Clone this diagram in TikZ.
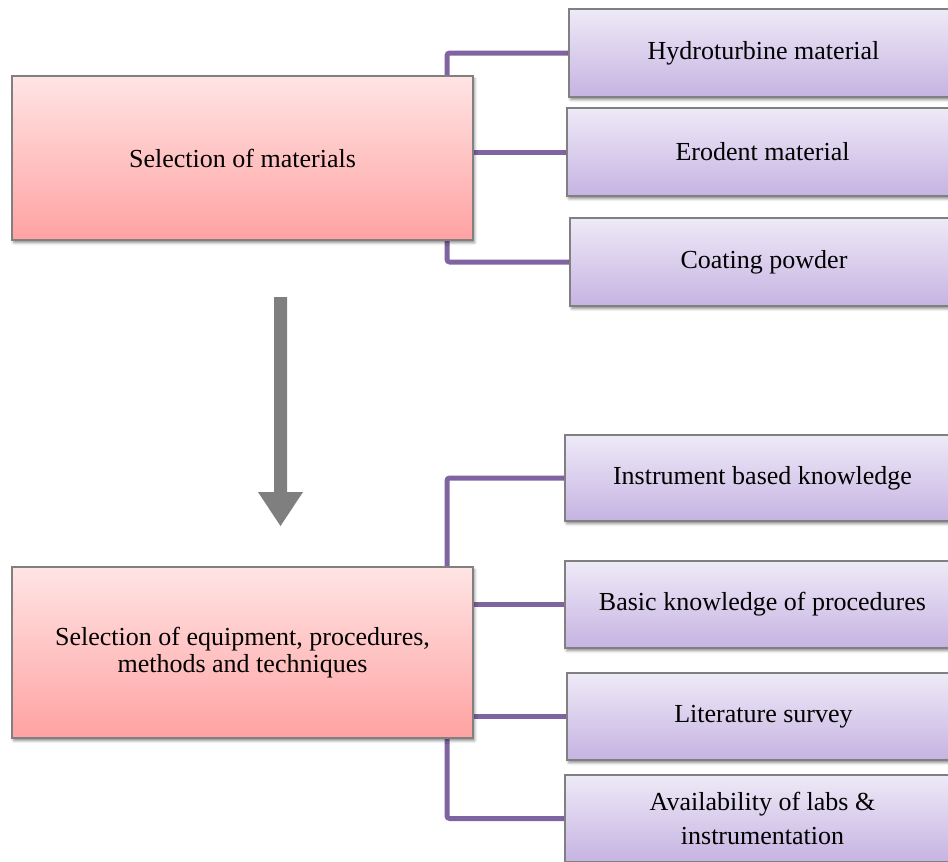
\documentclass[tikz,border=0pt]{standalone}
\usepackage{fontspec}
\setmainfont{Liberation Serif}
\usetikzlibrary{shadows.blur}
\pgfdeclarelayer{background}
\pgfsetlayers{background,main}
\definecolor{pinktop}{HTML}{FFE4E4}
\definecolor{pinkbot}{HTML}{FFA2A2}
\definecolor{purptop}{HTML}{EEEAF7}
\definecolor{purpbot}{HTML}{C6B3E2}
\definecolor{conncol}{HTML}{8064A2}
\definecolor{bordcol}{HTML}{808080}
\definecolor{arrcol}{HTML}{7F7F7F}
\tikzset{
  basebox/.style={draw=bordcol, line width=0.8pt, inner sep=2pt, align=center,
    font=\fontsize{19.5}{20}\selectfont,
    blur shadow={shadow xshift=1.2pt, shadow yshift=-2pt, shadow blur radius=2pt, shadow opacity=45}},
  mainbox/.style={basebox, top color=pinktop, bottom color=pinkbot},
  subbox/.style={basebox, top color=purptop, bottom color=purpbot},
  conn/.style={draw=conncol, line width=3.75pt, rounded corners=2pt},
}
\begin{document}
\begin{tikzpicture}[x=0.75pt, y=-0.75pt]
\useasboundingbox (0,0) rectangle (948,861);
\clip (0,0) rectangle (948,861);
% left boxes
\node[mainbox, minimum width=345.75pt, minimum height=123pt] (mat) at (242.5,158) {Selection of materials};
\node[mainbox, minimum width=345.75pt, minimum height=128.25pt] (equ) at (242.5,652.5) {Selection of equipment, procedures,\\methods and techniques};
% right boxes (top)
\node[subbox, minimum width=291.75pt, minimum height=66pt] (hyd) at (763.5,53) {Hydroturbine material};
\node[subbox, minimum width=293.25pt, minimum height=66pt] (ero) at (762.5,152) {Erodent material};
\node[subbox, minimum width=291pt, minimum height=66pt] (coa) at (764,262) {Coating powder};
% right boxes (bottom)
\node[subbox, minimum width=296.25pt, minimum height=64.5pt] (ins) at (762.5,478) {Instrument based knowledge};
\node[subbox, minimum width=296.25pt, minimum height=65.25pt] (bas) at (762.5,604.5) {Basic knowledge of procedures};
\node[subbox, minimum width=294.75pt, minimum height=65.25pt] (lit) at (763.5,716.5) {Literature survey};
\node[subbox, minimum width=296.25pt, minimum height=65.25pt, font=\fontsize{19.5}{25}\selectfont] (ava) at (762.5,818.5) {Availability of labs \&\\instrumentation};
% trunk positions
\coordinate (tv) at (447,0);
\begin{pgfonlayer}{background}
\draw[conn] (hyd.west) -- (hyd.west -| tv) -- (coa.west -| tv) -- (coa.west);
\draw[conn] (ero.west -| tv) -- (ero.west);
\draw[conn] (ins.west) -- (ins.west -| tv) -- (ava.west -| tv) -- (ava.west);
\draw[conn] (bas.west -| tv) -- (bas.west);
\draw[conn] (lit.west -| tv) -- (lit.west);
\end{pgfonlayer}
% down arrow
\fill[arrcol] (274,297) -- (287,297) -- (287,492) -- (303,492) -- (280.5,526) -- (258,492) -- (274,492) -- cycle;
\end{tikzpicture}
\end{document}
